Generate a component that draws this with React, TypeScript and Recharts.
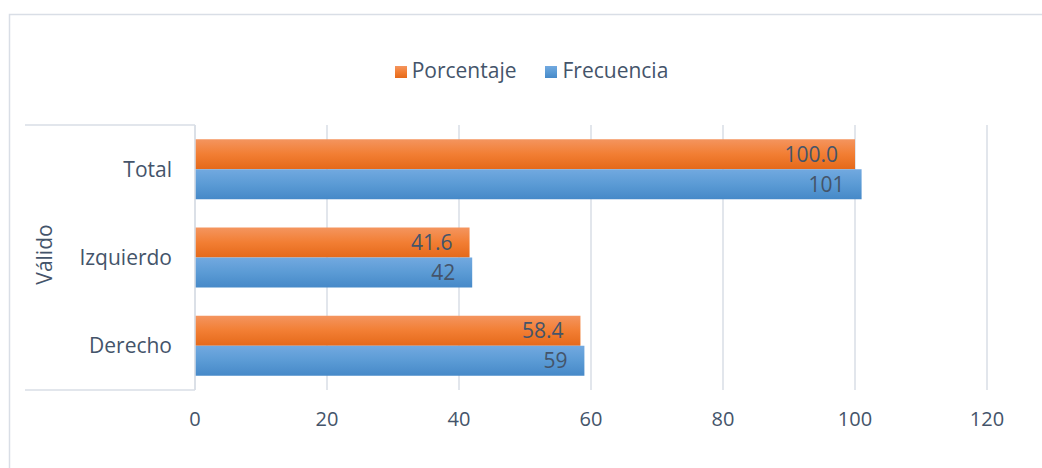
import React from "react";
import * as R from "recharts";
import { BarChart, Bar, XAxis, YAxis, CartesianGrid, Legend, LabelList } from "recharts";

const categories = ["Total", "Izquierdo", "Derecho"];
const porcentaje = [100.0, 41.6, 58.4];
const frecuencia = [101, 42, 59];
const xTicks = [0, 20, 40, 60, 80, 100, 120];
const groupLabel = "Válido";
const seriesNames = ["Porcentaje", "Frecuencia"];

const data = categories.map((name, i) => ({
  name,
  Porcentaje: porcentaje[i],
  Frecuencia: frecuencia[i],
}));

const TEXT = "#44546A";
const GRID = "#D9DEE6";
const FONT = "'Open Sans', sans-serif";

const legendColors: Record<string, string> = {
  Porcentaje: "linear-gradient(#F4955F, #F27E33 50%, #E5691A)",
  Frecuencia: "linear-gradient(#72A9E0, #5B9BD5 50%, #4689C8)",
};

function LegendContent() {
  return (
    <div
      style={{
        display: "flex",
        justifyContent: "center",
        alignItems: "center",
        height: 24,
        paddingLeft: 21,
        fontFamily: FONT,
        fontSize: 21,
        color: TEXT,
      }}
    >
      {seriesNames.map((n, i) => (
        <div key={n} style={{ display: "flex", alignItems: "center", marginRight: i === 0 ? 29 : 0 }}>
          <span style={{ display: "inline-block", width: 12, height: 12, background: legendColors[n], marginRight: 5, marginTop: 3 }} />
          <span style={{ lineHeight: "24px" }}>{n}</span>
        </div>
      ))}
    </div>
  );
}

function Decor() {
  const anyR = R as any;
  const plot = anyR.usePlotArea ? anyR.usePlotArea() : null;
  const offset = !plot && anyR.useOffset ? anyR.useOffset() : null;
  let px = 195, py = 125, ph = 265;
  if (plot) {
    px = plot.x; py = plot.y; ph = plot.height;
  } else if (offset) {
    px = offset.left; py = offset.top; ph = 468 - offset.top - offset.bottom;
  }
  const boxLeft = 25;
  return (
    <g>
      <defs>
        <linearGradient id="gradOrange" x1="0" y1="0" x2="0" y2="1">
          <stop offset="0%" stopColor="#F4955F" />
          <stop offset="50%" stopColor="#F27E33" />
          <stop offset="100%" stopColor="#E5691A" />
        </linearGradient>
        <linearGradient id="gradBlue" x1="0" y1="0" x2="0" y2="1">
          <stop offset="0%" stopColor="#72A9E0" />
          <stop offset="50%" stopColor="#5B9BD5" />
          <stop offset="100%" stopColor="#4689C8" />
        </linearGradient>
      </defs>
      <rect x={9.5} y={14.5} width={1100} height={500} fill="none" stroke={GRID} strokeWidth={1.5} />
      <line x1={boxLeft} x2={px} y1={py} y2={py} stroke={GRID} strokeWidth={1.5} />
      <line x1={boxLeft} x2={px} y1={py + ph} y2={py + ph} stroke={GRID} strokeWidth={1.5} />
      <text
        x={44}
        y={py + ph / 2 - 3}
        transform={`rotate(-90 44 ${py + ph / 2 - 3})`}
        textAnchor="middle"
        dominantBaseline="central"
        fill={TEXT}
        fontSize={21}
        fontFamily={FONT}
      >
        {groupLabel}
      </text>
    </g>
  );
}

export default function App() {
  return (
    <div style={{ position: "absolute", left: 0, top: 0, width: 1042, height: 468, background: "#fff", fontFamily: FONT }}>
      <BarChart
        width={1042}
        height={468}
        data={data}
        layout="vertical"
        margin={{ top: 101, right: 55, bottom: 38, left: 0 }}
        barCategoryGap="16%"
        barGap={0}
      >
        <Decor />
        <CartesianGrid horizontal={false} vertical={true} stroke={GRID} strokeWidth={1.5} />
        <XAxis
          type="number"
          domain={[0, 120]}
          ticks={xTicks}
          axisLine={false}
          tickLine={false}
          tickSize={0}
          tickMargin={22}
          height={40}
          tick={{ fill: TEXT, fontSize: 20, fontFamily: FONT }}
        />
        <YAxis
          type="category"
          dataKey="name"
          width={195}
          axisLine={{ stroke: GRID, strokeWidth: 1.5 }}
          tickLine={false}
          tickSize={0}
          tickMargin={23}
          tick={{ fill: TEXT, fontSize: 21, fontFamily: FONT }}
        />
        <Legend verticalAlign="top" align="center" content={<LegendContent />} wrapperStyle={{ top: 58, left: 0, width: 1042 }} />
        <Bar dataKey="Porcentaje" name="Porcentaje" fill="url(#gradOrange)" isAnimationActive={false}>
          <LabelList
            dataKey="Porcentaje"
            position="insideRight"
            offset={17}
            fill={TEXT}
            fontSize={21}
            fontFamily={FONT}
            formatter={(v: any) => Number(v).toFixed(1)}
          />
        </Bar>
        <Bar dataKey="Frecuencia" name="Frecuencia" fill="url(#gradBlue)" isAnimationActive={false}>
          <LabelList
            dataKey="Frecuencia"
            position="insideRight"
            offset={17}
            fill={TEXT}
            fontSize={21}
            fontFamily={FONT}
          />
        </Bar>
      </BarChart>
    </div>
  );
}
